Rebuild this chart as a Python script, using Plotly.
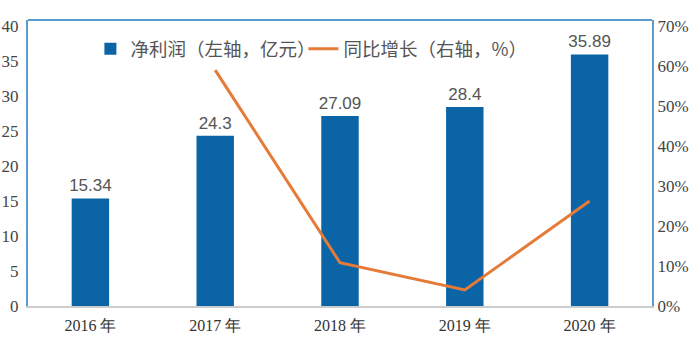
import plotly.graph_objects as go

years = ["2016 年", "2017 年", "2018 年", "2019 年", "2020 年"]
profit = [15.34, 24.3, 27.09, 28.4, 35.89]
profit_labels = ["15.34", "24.3", "27.09", "28.4", "35.89"]
growth_years = ["2017 年", "2018 年", "2019 年", "2020 年"]
growth = [58.9, 10.8, 4.0, 26.2]

left_ticks = [0, 5, 10, 15, 20, 25, 30, 35, 40]
right_ticks = [0, 10, 20, 30, 40, 50, 60, 70]
right_tick_text = ["0%", "10%", "20%", "30%", "40%", "50%", "60%", "70%"]

BAR = "#0a64a6"
LINE = "#e57b38"
FRAME = "#5b9bd0"

fig = go.Figure()
fig.add_trace(go.Bar(
    x=years, y=profit, name="净利润（左轴，亿元）",
    marker=dict(color=BAR, line=dict(width=0)),
    text=profit_labels, textposition="outside", cliponaxis=False,
    constraintext="none",
    textfont=dict(family="Liberation Sans", size=17, color="#555555"),
    width=0.3,
))
fig.add_trace(go.Scatter(
    x=growth_years, y=growth, name="同比增长（右轴，%）", yaxis="y2",
    mode="lines", line=dict(color=LINE, width=3),
))

serif = "Liberation Serif"
fig.update_layout(
    width=698, height=345,
    margin=dict(l=28, r=46, t=20, b=39),
    paper_bgcolor="white", plot_bgcolor="white",
    showlegend=True,
    legend=dict(
        orientation="h", x=0.100, y=0.898, xanchor="left", yanchor="middle",
        font=dict(family="Noto Sans CJK SC", size=18.5, color="#555555"),
        bgcolor="rgba(0,0,0,0)", itemwidth=30, tracegroupgap=0,
        entrywidth=168, entrywidthmode="pixels",
    ),
    xaxis=dict(
        showgrid=False, showline=True, linecolor="#cccccc", linewidth=1.5,
        ticks="", tickfont=dict(family=serif, size=16, color="#333333"),
        zeroline=False, automargin=False, ticklabelstandoff=4,
    ),
    yaxis=dict(
        range=[0, 40.8], tickvals=left_ticks, showgrid=False, zeroline=False,
        showline=True, linecolor=FRAME, linewidth=2, ticks="", automargin=False,
        ticklabelstandoff=4,
        tickfont=dict(family=serif, size=17, color="#444444"),
    ),
    yaxis2=dict(
        range=[0, 71.4], tickvals=right_ticks, ticktext=right_tick_text,
        overlaying="y", side="right", showgrid=False, zeroline=False,
        showline=True, linecolor=FRAME, linewidth=2, ticks="", automargin=False,
        tickfont=dict(family=serif, size=17, color="#444444"),
    ),
    shapes=[dict(type="line", xref="paper", yref="paper", x0=0, x1=1, y0=1, y1=1,
                 line=dict(color=FRAME, width=2))],
)

fig.write_html("out.html")
